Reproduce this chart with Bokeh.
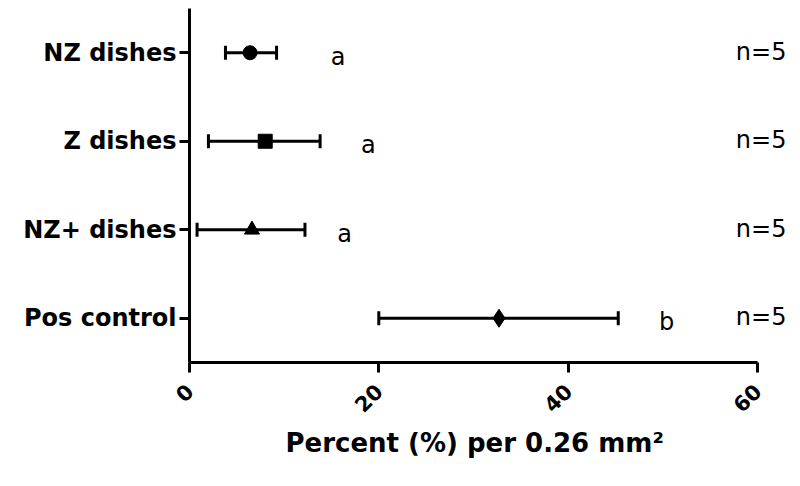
from math import pi
from bokeh.plotting import figure
from bokeh.models import (ColumnDataSource, FactorRange, Range1d, FixedTicker,
                          Whisker, TeeHead, Title)
from bokeh.core.properties import value
from bokeh.embed import file_html
from bokeh.resources import INLINE

# ---- data ----
groups = ["NZ dishes", "Z dishes", "NZ+ dishes", "Pos control"]
means = [6.4, 8.0, 6.6, 32.7]
lower = [3.8, 2.0, 0.8, 20.0]
upper = [9.2, 13.8, 12.2, 45.3]
markers = ["circle", "square", "triangle", "diamond"]
marker_sizes = [14, 14, 15, 18]
letters = ["a", "a", "a", "b"]
letter_x = [15.7, 18.9, 16.4, 50.4]
n_labels = ["n=5", "n=5", "n=5", "n=5"]
n_x = [60.4, 60.4, 60.4, 60.4]
x_ticks = [0, 20, 40, 60]

FONT = "DejaVu Sans"

src = ColumnDataSource(dict(g=groups, m=means, lo=lower, hi=upper,
                            mk=markers, ms=marker_sizes,
                            let=letters, lx=letter_x, nl=n_labels, nx=n_x))

p = figure(width=790, height=470, output_backend="svg", toolbar_location=None,
           y_range=FactorRange(*reversed(groups), range_padding=0),
           x_range=Range1d(0, 63.5),
           min_border_left=189, min_border_right=0, min_border_top=8,
           min_border_bottom=108)
p.outline_line_color = None
p.xgrid.visible = False
p.ygrid.visible = False
p.background_fill_color = "white"

# error bars
w = Whisker(source=src, base="g", lower="lo", upper="hi", dimension="width",
            line_width=3, line_color="black",
            lower_head=TeeHead(size=14, line_width=3, line_color="black"),
            upper_head=TeeHead(size=14, line_width=3, line_color="black"))
p.add_layout(w)

p.scatter(x="m", y="g", marker="mk", size="ms", source=src,
          fill_color="black", line_color="black")

p.text(x="lx", y="g", text="let", source=src, text_font=value(FONT),
       text_font_size="24px", text_align="center", text_baseline="alphabetic",
       y_offset=4, text_color="black")
p.text(x="nx", y="g", text="nl", source=src, text_font=value(FONT),
       text_font_size="24px", text_align="center", text_baseline="alphabetic",
       y_offset=-1, text_color="black")

# x axis
xa = p.xaxis[0]
xa.ticker = FixedTicker(ticks=x_ticks)
xa.bounds = (0, 60)
xa.axis_line_width = 3
xa.major_tick_line_width = 3
xa.major_tick_out = 10
xa.major_tick_in = 0
xa.minor_tick_line_color = None
xa.major_label_orientation = pi / 4
xa.major_label_text_font = FONT
xa.major_label_text_font_style = "bold"
xa.major_label_text_font_size = "21px"
xa.major_label_text_color = "black"
xa.major_label_standoff = 15

xlabel = Title(text="Percent (%) per 0.26 mm²", align="left", offset=96,
               text_font=FONT, text_font_style="bold", text_font_size="26px",
               text_color="black", standoff=6)
p.add_layout(xlabel, "below")

# y axis
ya = p.yaxis[0]
ya.axis_line_width = 3
ya.major_tick_line_width = 3
ya.major_tick_out = 10
ya.major_tick_in = 0
ya.major_label_text_font = FONT
ya.major_label_text_font_style = "bold"
ya.major_label_text_font_size = "24px"
ya.major_label_text_color = "black"
ya.major_label_standoff = 3

open("out.html", "w").write(file_html(p, INLINE))
